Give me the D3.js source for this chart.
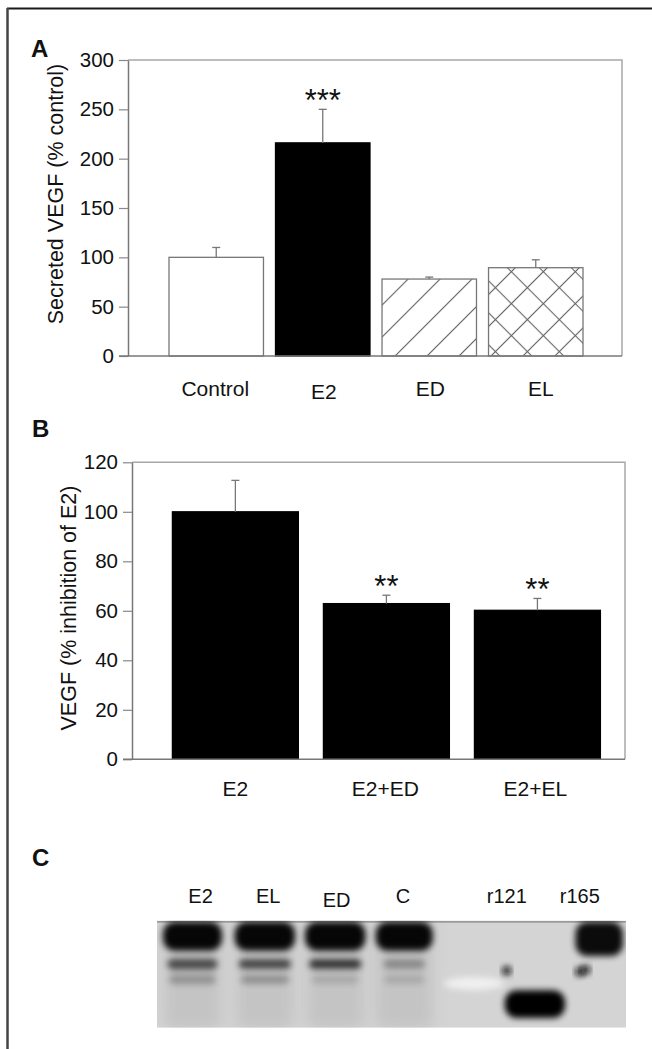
<!DOCTYPE html>
<html>
<head>
<meta charset="utf-8">
<script src="https://cdn.jsdelivr.net/npm/d3@7"></script>
<style>
  body { margin: 0; background: #fff; }
  svg text { font-family: "Liberation Sans", Arial, Helvetica, sans-serif; fill: #111; }
</style>
</head>
<body>
<svg id="fig" width="652" height="1049"></svg>
<script>
// ---- panel A: secreted VEGF (% control) ----
const catsA  = ["Control", "E2", "ED", "EL"];
const valsA  = [100, 216, 78, 89.5];
const errA   = [10, 34, 2, 8];
const fillA  = ["plain", "solid", "hatch", "cross"];
const starsA = ["", "***", "", ""];
const ticksA = [0, 50, 100, 150, 200, 250, 300];

// ---- panel B: VEGF (% inhibition of E2) ----
const catsB  = ["E2", "E2+ED", "E2+EL"];
const valsB  = [100, 62.9, 60.2];
const errB   = [12.7, 3.4, 4.8];
const starsB = ["", "**", "**"];
const ticksB = [0, 20, 40, 60, 80, 100, 120];

// ---- panel C: western blot (x in lane units, y in migration units 0-100) ----
const lanesC   = ["E2", "EL", "ED", "C", "r121", "r165"];
const laneAtC  = [0.65, 1.66, 2.68, 3.67, 5.22, 6.31];
const bandLane = [0.53, 1.61, 2.66, 3.69, 6.6,  0.53, 1.61, 2.66, 3.69, 0.53, 1.61, 2.66, 3.69, 5.64];
const bandMig  = [14.5, 14.5, 14.5, 14.5, 17,   40.5, 40.5, 40.5, 40.5, 55,   55,   55,   55,   78];
const bandW    = [0.88, 0.9,  0.9,  0.85, 0.71, 0.75, 0.78, 0.78, 0.62, 0.7,  0.72, 0.7,  0.6,  0.9];
const bandH    = [27,   27,   27,   27,   32,   10,   9,    9,    9,    9,    8,    8,    8,    26];
const bandInk  = [0.97, 0.97, 0.97, 0.97, 0.95, 0.62, 0.66, 0.75, 0.3,  0.25, 0.27, 0.14, 0.14, 1];
const dotLane  = [5.22, 6.31, 6.4];
const dotMig   = [46.7, 47.7, 46];

const svg = d3.select("#fig");

// figure border (top and left)
svg.append("line").attr("x1", 7).attr("x2", 652).attr("y1", 8.5).attr("y2", 8.5)
  .attr("stroke", "#1a1a1a").attr("stroke-width", 2);
svg.append("line").attr("x1", 7.5).attr("x2", 7.5).attr("y1", 8).attr("y2", 1049)
  .attr("stroke", "#444").attr("stroke-width", 2.5);

const defs = svg.append("defs");
const hw = 22.6;
const hatch = defs.append("pattern").attr("id", "hatch").attr("patternUnits", "userSpaceOnUse")
  .attr("width", hw).attr("height", hw).attr("patternTransform", "rotate(45)");
hatch.append("line").attr("x1", hw / 2).attr("x2", hw / 2).attr("y1", 0).attr("y2", hw)
  .attr("stroke", "#666").attr("stroke-width", 1.1);
const cross = defs.append("pattern").attr("id", "cross").attr("patternUnits", "userSpaceOnUse")
  .attr("width", hw).attr("height", hw).attr("patternTransform", "rotate(45)");
cross.append("line").attr("x1", hw / 2).attr("x2", hw / 2).attr("y1", 0).attr("y2", hw)
  .attr("stroke", "#666").attr("stroke-width", 1.1);
cross.append("line").attr("x1", 0).attr("x2", hw).attr("y1", hw / 2).attr("y2", hw / 2)
  .attr("stroke", "#666").attr("stroke-width", 1.1);

const fillOf = k => k === "solid" ? "#000" : k === "hatch" ? "url(#hatch)" : k === "cross" ? "url(#cross)" : "#fff";

function panelLetter(t, x, y) {
  svg.append("text").attr("x", x).attr("y", y).attr("font-size", 24).attr("font-weight", "bold").text(t);
}

function barPanel(o) {
  const g = svg.append("g");
  const x = d3.scaleBand().domain(o.cats).range(o.barRange).paddingInner(o.pad).paddingOuter(0);
  const y = d3.scaleLinear().domain([0, o.max]).range([o.bottom, o.top]);

  // frame top & right
  g.append("path").attr("d", `M${o.left},${o.top}H${o.right}V${o.bottom}`)
    .attr("fill", "none").attr("stroke", "#a8a8a8").attr("stroke-width", 1.5);

  const ax = g.append("g").attr("transform", `translate(${o.left},0)`)
    .call(d3.axisLeft(y).tickValues(o.ticks).tickSize(9).tickPadding(5).tickSizeOuter(0));
  ax.select(".domain").attr("stroke", "#777").attr("stroke-width", 1.5);
  ax.selectAll(".tick line").attr("stroke", "#888").attr("stroke-width", 1.2);
  ax.selectAll(".tick text").attr("font-size", 20.5).attr("fill", "#111")
    .attr("font-family", "Liberation Sans, Arial, sans-serif");

  // bars
  g.selectAll("rect.bar").data(o.vals).join("rect").attr("class", "bar")
    .attr("x", (d, i) => x(o.cats[i])).attr("width", x.bandwidth())
    .attr("y", d => y(d)).attr("height", d => y(0) - y(d))
    .attr("fill", (d, i) => fillOf(o.fills[i]))
    .attr("stroke", (d, i) => o.fills[i] === "solid" ? "#000" : "#777").attr("stroke-width", 1.3);

  // error bars (upper only), significance stars, category labels
  o.vals.forEach((v, i) => {
    const cx = x(o.cats[i]) + x.bandwidth() / 2;
    g.append("line").attr("x1", cx).attr("x2", cx).attr("y1", y(v)).attr("y2", y(v + o.errs[i]))
      .attr("stroke", "#777").attr("stroke-width", 1.3);
    g.append("line").attr("x1", cx - 4).attr("x2", cx + 4).attr("y1", y(v + o.errs[i])).attr("y2", y(v + o.errs[i]))
      .attr("stroke", "#777").attr("stroke-width", 1.3);
    if (o.stars[i]) {
      g.append("text").attr("x", cx).attr("y", y(v + o.errs[i]) + 2)
        .attr("text-anchor", "middle").attr("font-size", 31).attr("fill", "#333").text(o.stars[i]);
    }
    g.append("text").attr("x", cx + (o.labelDx ? o.labelDx[i] : 0)).attr("y", o.labelY + (o.labelDy ? o.labelDy[i] : 0))
      .attr("text-anchor", "middle").attr("font-size", 21).text(o.cats[i]);
  });

  // baseline
  g.append("line").attr("x1", o.left - 9).attr("x2", o.right).attr("y1", y(0)).attr("y2", y(0))
    .attr("stroke", "#777").attr("stroke-width", 1.5);

  g.append("text").attr("transform", `translate(${o.titleX},${o.titleY}) rotate(-90)`)
    .attr("text-anchor", "middle").attr("font-size", 21.5).text(o.title);
}

panelLetter("A", 31, 57);
barPanel({
  cats: catsA, vals: valsA, errs: errA, fills: fillA, stars: starsA, ticks: ticksA,
  max: 300, top: 60, bottom: 356, left: 128, right: 622,
  barRange: [169, 583], pad: 0.113,
  labelY: 396, labelDy: [0, 3, 0, 0], labelDx: [-1, 1, 1, 5],
  title: "Secreted VEGF (% control)", titleX: 63, titleY: 194
});

panelLetter("B", 32, 437);
barPanel({
  cats: catsB, vals: valsB, errs: errB, fills: ["solid", "solid", "solid"], stars: starsB, ticks: ticksB,
  max: 120, top: 462.3, bottom: 759.3, left: 132, right: 625,
  barRange: [172.4, 600.4], pad: 0.166,
  labelY: 796, labelDx: [0, -1, -2],
  title: "VEGF (% inhibition of E2)", titleX: 76, titleY: 608
});

// ---- panel C ----
panelLetter("C", 32, 866);
const bx = d3.scaleLinear().domain([0, 7]).range([157, 626]);
const by = d3.scaleLinear().domain([0, 100]).range([920.7, 1027.7]);
const unitX = bx(1) - bx(0), unitY = by(1) - by(0);

defs.append("clipPath").attr("id", "blotClip").append("rect")
  .attr("x", bx(0)).attr("y", by(0)).attr("width", bx(7) - bx(0)).attr("height", by(100) - by(0));
defs.append("filter").attr("id", "blur3").attr("x", "-30%").attr("y", "-60%").attr("width", "160%").attr("height", "220%")
  .append("feGaussianBlur").attr("stdDeviation", 3.2);
defs.append("filter").attr("id", "blur8").attr("x", "-50%").attr("y", "-20%").attr("width", "200%").attr("height", "140%")
  .append("feGaussianBlur").attr("stdDeviation", 7);

const blot = svg.append("g").attr("clip-path", "url(#blotClip)");
blot.append("rect").attr("x", bx(0)).attr("y", by(0)).attr("width", bx(7) - bx(0)).attr("height", by(100) - by(0))
  .attr("fill", "#d4d4d4");
// smeared lane columns
blot.selectAll("rect.smear").data(bandLane.slice(0, 4)).join("rect").attr("class", "smear")
  .attr("x", d => bx(d) - 0.42 * unitX).attr("width", 0.84 * unitX)
  .attr("y", by(0)).attr("height", by(100) - by(0))
  .attr("fill", "#b9b9b9").attr("opacity", 0.6).attr("filter", "url(#blur8)");
// light streak in r121 lane
blot.append("ellipse").attr("cx", bx(4.73)).attr("cy", by(58.7)).attr("rx", 0.45 * unitX).attr("ry", 6 * unitY)
  .attr("fill", "#f0f0f0").attr("filter", "url(#blur3)");
// thin dark top edge
blot.append("rect").attr("x", bx(0)).attr("y", by(0)).attr("width", bx(7) - bx(0)).attr("height", 2)
  .attr("fill", "#999");
// bands
blot.selectAll("rect.band").data(bandLane).join("rect").attr("class", "band")
  .attr("x", (d, i) => bx(d) - bandW[i] * unitX / 2).attr("width", (d, i) => bandW[i] * unitX)
  .attr("y", (d, i) => by(bandMig[i]) - bandH[i] * unitY / 2).attr("height", (d, i) => bandH[i] * unitY)
  .attr("rx", (d, i) => Math.min(12, bandH[i] * unitY / 2)).attr("ry", (d, i) => Math.min(12, bandH[i] * unitY / 2))
  .attr("fill", "#050505").attr("opacity", (d, i) => bandInk[i]).attr("filter", "url(#blur3)");
// specks
blot.selectAll("circle.dot").data(dotLane).join("circle").attr("class", "dot")
  .attr("cx", d => bx(d)).attr("cy", (d, i) => by(dotMig[i])).attr("r", 3.6)
  .attr("fill", "#111").attr("filter", "url(#blur3)").attr("r", 4.5);

svg.selectAll("text.lane").data(lanesC).join("text").attr("class", "lane")
  .attr("x", (d, i) => bx(laneAtC[i])).attr("y", (d, i) => d === "ED" ? 907 : 903)
  .attr("text-anchor", "middle").attr("font-size", 20).text(d => d);
</script>
</body>
</html>
